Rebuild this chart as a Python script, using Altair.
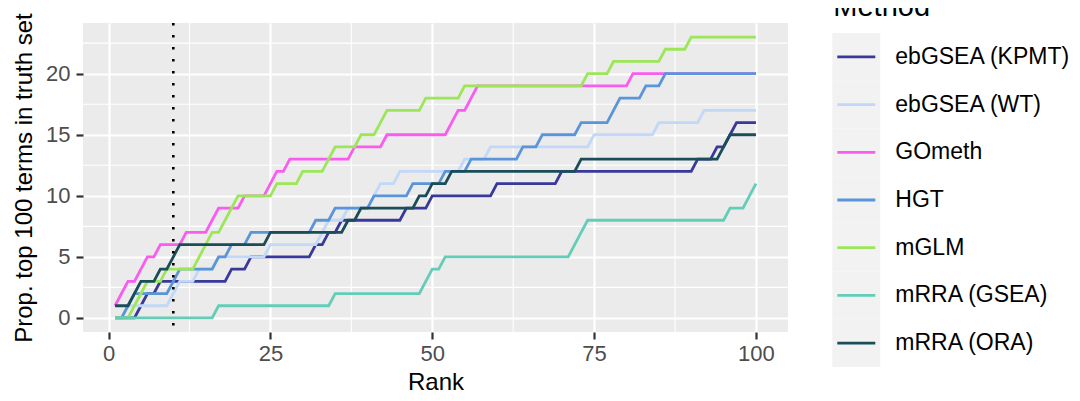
import altair as alt
import pandas as pd

FONT = "Liberation Sans"

methods = ["ebGSEA (KPMT)", "ebGSEA (WT)", "GOmeth", "HGT", "mGLM", "mRRA (GSEA)", "mRRA (ORA)"]
colors = ["#38399A", "#C1D8F8", "#F95CEF", "#5A95D9", "#9DE65A", "#64CDB8", "#1A4D57"]

ranks = list(range(1, 101))

kpmt = [0, 0, 0, 0, 1, 2, 2, 3, 3, 3,
        3, 3, 3, 3, 3, 3, 3, 3, 4, 4,
        4, 5, 5, 5, 5, 5, 5, 5, 5, 5,
        5, 6, 6, 7, 7, 8, 8, 8, 8, 8,
        8, 8, 8, 8, 8, 9, 9, 9, 9, 10,
        10, 10, 10, 10, 10, 10, 10, 10, 10, 11,
        11, 11, 11, 11, 11, 11, 11, 11, 11, 12,
        12, 12, 12, 12, 12, 12, 12, 12, 12, 12,
        12, 12, 12, 12, 12, 12, 12, 12, 12, 12,
        13, 13, 13, 14, 14, 15, 16, 16, 16, 16]

wt = [0, 0, 1, 1, 1, 1, 1, 1, 1, 2,
      3, 3, 3, 4, 4, 4, 5, 5, 5, 5,
      5, 5, 5, 5, 6, 6, 6, 6, 6, 6,
      6, 6, 7, 8, 8, 8, 9, 9, 9, 9,
      10, 11, 11, 11, 12, 12, 12, 12, 12, 12,
      12, 12, 12, 12, 13, 13, 13, 13, 14, 14,
      14, 14, 14, 14, 14, 14, 14, 14, 14, 14,
      14, 14, 14, 14, 15, 15, 15, 15, 15, 15,
      15, 15, 15, 15, 16, 16, 16, 16, 16, 16,
      16, 17, 17, 17, 17, 17, 17, 17, 17, 17]

gometh = [1, 2, 3, 3, 4, 5, 5, 6, 6, 6,
          6, 7, 7, 7, 7, 8, 9, 9, 9, 9,
          10, 10, 10, 10, 11, 12, 12, 13, 13, 13,
          13, 13, 13, 13, 13, 13, 13, 14, 14, 14,
          14, 14, 15, 15, 15, 15, 15, 15, 15, 15,
          15, 15, 16, 17, 17, 18, 19, 19, 19, 19,
          19, 19, 19, 19, 19, 19, 19, 19, 19, 19,
          19, 19, 19, 19, 19, 19, 19, 19, 19, 19,
          20, 20, 20, 20, 20, 20, 20, 20, 20, 20,
          20, 20, 20, 20, 20, 20, 20, 20, 20, 20]

hgt = [0, 0, 1, 2, 2, 2, 2, 2, 2, 3,
       4, 4, 4, 4, 4, 4, 5, 5, 6, 6,
       6, 7, 7, 7, 7, 7, 7, 7, 7, 7,
       7, 8, 8, 8, 9, 9, 9, 9, 9, 9,
       10, 10, 10, 10, 10, 10, 11, 11, 11, 11,
       11, 12, 12, 12, 12, 13, 13, 13, 13, 13,
       13, 13, 13, 14, 14, 14, 15, 15, 15, 15,
       15, 15, 16, 16, 16, 16, 16, 17, 18, 18,
       18, 18, 19, 19, 19, 20, 20, 20, 20, 20,
       20, 20, 20, 20, 20, 20, 20, 20, 20, 20]

mglm = [0, 0, 0, 1, 2, 3, 3, 3, 4, 4,
        4, 4, 4, 5, 6, 7, 7, 8, 9, 10,
        10, 10, 10, 10, 10, 11, 11, 11, 11, 12,
        12, 12, 12, 13, 14, 14, 14, 14, 15, 15,
        15, 16, 17, 17, 17, 17, 17, 17, 18, 18,
        18, 18, 18, 18, 19, 19, 19, 19, 19, 19,
        19, 19, 19, 19, 19, 19, 19, 19, 19, 19,
        19, 19, 19, 20, 20, 20, 20, 21, 21, 21,
        21, 21, 21, 21, 21, 22, 22, 22, 22, 23,
        23, 23, 23, 23, 23, 23, 23, 23, 23, 23]

gsea = [0, 0, 0, 0, 0, 0, 0, 0, 0, 0,
        0, 0, 0, 0, 0, 0, 1, 1, 1, 1,
        1, 1, 1, 1, 1, 1, 1, 1, 1, 1,
        1, 1, 1, 1, 2, 2, 2, 2, 2, 2,
        2, 2, 2, 2, 2, 2, 2, 2, 3, 4,
        4, 5, 5, 5, 5, 5, 5, 5, 5, 5,
        5, 5, 5, 5, 5, 5, 5, 5, 5, 5,
        5, 6, 7, 8, 8, 8, 8, 8, 8, 8,
        8, 8, 8, 8, 8, 8, 8, 8, 8, 8,
        8, 8, 8, 8, 8, 9, 9, 9, 10, 11]

ora = [1, 1, 1, 2, 3, 3, 3, 4, 4, 5,
       6, 6, 6, 6, 6, 6, 6, 6, 6, 6,
       6, 6, 6, 6, 7, 7, 7, 7, 7, 7,
       7, 7, 7, 7, 7, 7, 8, 8, 9, 9,
       9, 9, 9, 9, 9, 9, 9, 10, 10, 11,
       11, 11, 12, 12, 12, 12, 12, 12, 12, 12,
       12, 12, 12, 12, 12, 12, 12, 12, 12, 12,
       12, 12, 13, 13, 13, 13, 13, 13, 13, 13,
       13, 13, 13, 13, 13, 13, 13, 13, 13, 13,
       13, 13, 13, 13, 14, 15, 15, 15, 15, 15]

series = [kpmt, wt, gometh, hgt, mglm, gsea, ora]

x_ticks = [0, 25, 50, 75, 100]
y_ticks = [0, 5, 10, 15, 20]
x_minor = [12.5, 37.5, 62.5, 87.5]
y_minor = [2.5, 7.5, 12.5, 17.5, 22.5]
cutoff = [10]

rows = []
for m, vals in zip(methods, series):
    for r, v in zip(ranks, vals):
        rows.append({"Rank": r, "Value": v, "Method": m})
df = pd.DataFrame(rows)

xs = alt.Scale(domain=[-3.95, 104.95], nice=False, zero=False)
ys = alt.Scale(domain=[-1.15, 24.15], nice=False, zero=False)
cs = alt.Scale(domain=methods, range=colors)

common_axis = dict(grid=True, gridColor="white", gridWidth=2.2, domain=False,
                   tickColor="#333333", tickSize=7, tickWidth=2.2,
                   labelFontSize=22, labelColor="#4D4D4D", labelFont=FONT,
                   titleFontSize=24, titleFontWeight="normal", titleColor="black",
                   titleFont=FONT, labelFlush=False)

xaxis = alt.Axis(values=x_ticks, title="Rank", labelPadding=4, titlePadding=6, **common_axis)
yaxis = alt.Axis(values=y_ticks, title="Prop. top 100 terms in truth set", labelPadding=6,
                 titlePadding=9, **common_axis)

xenc = alt.X("Rank:Q", scale=xs, axis=xaxis)
yenc = alt.Y("Value:Q", scale=ys, axis=yaxis)

minor_x = alt.Chart(pd.DataFrame({"Rank": x_minor})).mark_rule(
    color="white", strokeWidth=1.1).encode(x=xenc)
minor_y = alt.Chart(pd.DataFrame({"Value": y_minor})).mark_rule(
    color="white", strokeWidth=1.1).encode(y=yenc)

lines = alt.Chart(df).mark_line(strokeWidth=2.8, interpolate="linear").encode(
    x=xenc, y=yenc,
    color=alt.Color("Method:N", scale=cs, legend=None),
    detail="Method:N",
    order="Rank:Q",
)

vline = alt.Chart(pd.DataFrame({"Rank": cutoff})).mark_rule(
    color="black", strokeWidth=2.6, strokeDash=[2.6, 9.4]).encode(x=xenc)

main = alt.layer(minor_x, minor_y, lines, vline)

# legend drawn with its own band scale
leg_df = pd.DataFrame({"Method": methods})
ls = alt.Scale(domain=methods, range=[10, 344], paddingInner=0, paddingOuter=0)

key_bg = alt.Chart(leg_df).mark_rect(fill="#F2F2F2", strokeWidth=0).encode(
    y=alt.Y("Method:N", scale=ls, axis=None),
    x=alt.value(749.3), x2=alt.value(797.3))
key_line = alt.Chart(leg_df).mark_rule(strokeWidth=2.8).encode(
    y=alt.Y("Method:N", scale=ls, axis=None, bandPosition=0.5),
    x=alt.value(754.3), x2=alt.value(792.3),
    color=alt.Color("Method:N", scale=cs, legend=None))
key_text = alt.Chart(leg_df).mark_text(align="left", baseline="middle", fontSize=23,
                                       font=FONT, color="black").encode(
    y=alt.Y("Method:N", scale=ls, axis=None, bandPosition=0.5),
    x=alt.value(812.3), text="Method:N")
leg_title = alt.Chart(pd.DataFrame({"t": ["Method"]})).mark_text(
    align="left", baseline="alphabetic", fontSize=29, font=FONT, color="black").encode(
    x=alt.value(750.3), y=alt.value(-7), text="t:N")

legend = alt.layer(key_bg, key_line, key_text, leg_title)

chart = alt.layer(main, legend).resolve_scale(y="independent").properties(
    width=705, height=309,
    padding={"left": 75, "top": 15, "right": 284, "bottom": 66},
    autosize=alt.AutoSizeParams(type="none"),
).configure_view(fill="#EBEBEB", strokeWidth=0)

chart.save("out.html", embed_options={"renderer": "svg", "actions": False})
